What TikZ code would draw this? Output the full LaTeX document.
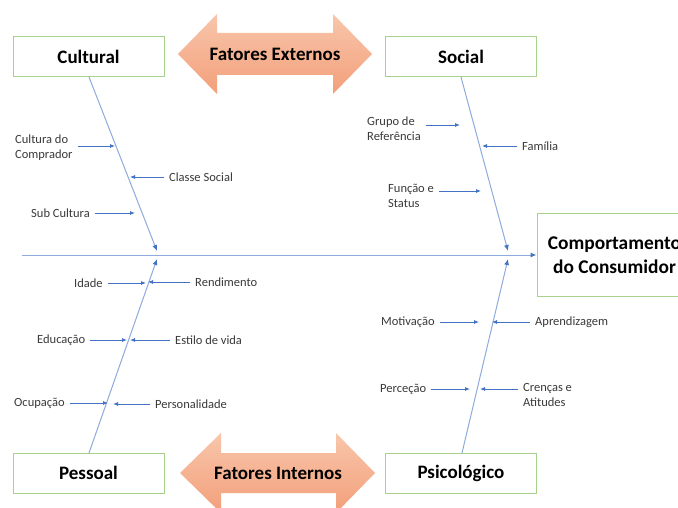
\documentclass[tikz,border=0pt]{standalone}
\usepackage{fontspec}
\setmainfont{Carlito}
\usetikzlibrary{arrows.meta,calc}
\definecolor{boxgreen}{HTML}{A9D18E}
\definecolor{bonec}{HTML}{8FAADC}
\definecolor{arrc}{HTML}{4472C4}
\definecolor{txtg}{HTML}{3A3A3A}
\definecolor{arrtop}{HTML}{F8C6AB}
\definecolor{arrbot}{HTML}{F39F7A}
\begin{document}
\begin{tikzpicture}[x=1pt,y=-1pt,
  catbox/.style={draw=boxgreen, line width=1pt, minimum width=151pt, minimum height=40pt, inner sep=0pt, fill=white, font=\fontsize{19}{22}\selectfont\bfseries},
  lblL/.style={font=\fontsize{12.5}{15}\selectfont, text=txtg, inner xsep=5pt, inner ysep=1pt, align=left, anchor=west},
  lblR/.style={font=\fontsize{12.5}{15}\selectfont, text=txtg, inner xsep=5pt, inner ysep=1pt, align=left, anchor=west},
  subarr/.style={draw=arrc, line width=0.8pt, -{Latex[length=5pt,width=4pt]}},
  bone/.style={draw=bonec, line width=1pt, -{Latex[length=6pt,width=5pt,color=arrc]}},
  bigarrow/.style={top color=arrtop, bottom color=arrbot, draw=none},
  bigtext/.style={font=\fontsize{19}{22}\selectfont\bfseries, text=black}
]
\useasboundingbox (0,0) rectangle (678,508);
\clip (0,0) rectangle (678,508);
\fill[white] (0,0) rectangle (678,508);

% big double arrows
\path[bigarrow] (178,54) -- (217,14) -- (217,33) -- (333,33) -- (333,14) -- (372,54) -- (333,94) -- (333,75) -- (217,75) -- (217,94) -- cycle;
\node[bigtext] (ext) at (275,54) {Fatores Externos};
\path[bigarrow] (180,473) -- (221,433) -- (221,453) -- (336,453) -- (336,433) -- (375,473) -- (336,513) -- (336,493) -- (221,493) -- (221,513) -- cycle;
\node[bigtext] (int) at (278,473) {Fatores Internos};

% category boxes
\node[catbox] (cult) at (88.5,57) {Cultural};
\node[catbox] (soc) at (461,57) {Social};
\node[catbox] (pess) at (88.5,473) {Pessoal};
\node[catbox] (psic) at (461,473) {Psicológico};
\node[catbox, minimum width=155pt, minimum height=82pt, align=center, font=\fontsize{19.4}{24}\selectfont\bfseries] (comp) at (614.5,255) {Comportamento\\do Consumidor};

% spine
\coordinate (spst) at (22,255);
\draw[bone] (spst) -- (comp.west);

% bones
\coordinate (cj) at (157,251);
\coordinate (pj) at (157,259);
\coordinate (sj) at (508,251);
\coordinate (qj) at (508,259);
\draw[bone] (89,77) -- (cj);
\draw[bone] (89,453) -- (pj);
\draw[bone] (461,77) -- (sj);
\draw[bone] (462,453) -- (qj);

% Cultural
\node[lblL] (c1) at (10,148) {Cultura do\\Comprador};
\coordinate (c1t) at (115,146);
\draw[subarr] (c1.east |- c1t) -- (c1t);
\node[lblR] (c2) at (164,177) {Classe Social};
\coordinate (c2t) at (130,177);
\draw[subarr] (c2.west) -- (c2t);
\node[lblL] (c3) at (26,213) {Sub Cultura};
\coordinate (c3t) at (135,213);
\draw[subarr] (c3.east) -- (c3t);

% Social
\node[lblL] (s1) at (362,129) {Grupo de\\Referência};
\coordinate (s1t) at (460,125);
\draw[subarr] (s1.east |- s1t) -- (s1t);
\node[lblR] (s2) at (517,146) {Família};
\coordinate (s2t) at (482,146);
\draw[subarr] (s2.west) -- (s2t);
\node[lblL] (s3) at (383,196) {Função e\\Status};
\coordinate (s3t) at (481,191);
\draw[subarr] (s3.east |- s3t) -- (s3t);

% Pessoal
\node[lblL] (p1) at (69,283) {Idade};
\coordinate (p1t) at (146,283);
\draw[subarr] (p1.east) -- (p1t);
\node[lblR] (p2) at (190,282) {Rendimento};
\coordinate (p2t) at (148,282);
\draw[subarr] (p2.west) -- (p2t);
\node[lblL] (p3) at (32,340) {Educação};
\coordinate (p3t) at (127,340);
\draw[subarr] (p3.east) -- (p3t);
\node[lblR] (p4) at (170,340) {Estilo de vida};
\coordinate (p4t) at (130,340);
\draw[subarr] (p4.west) -- (p4t);
\node[lblL] (p5) at (9,403) {Ocupação};
\coordinate (p5t) at (108,403);
\draw[subarr] (p5.east) -- (p5t);
\node[lblR] (p6) at (150,404) {Personalidade};
\coordinate (p6t) at (113,404);
\draw[subarr] (p6.west) -- (p6t);

% Psicologico
\node[lblL] (q1) at (376,322) {Motivação};
\coordinate (q1t) at (479,322);
\draw[subarr] (q1.east) -- (q1t);
\node[lblR] (q2) at (530,322) {Aprendizagem};
\coordinate (q2t) at (492,322);
\draw[subarr] (q2.west) -- (q2t);
\node[lblL] (q3) at (375,389) {Perceção};
\coordinate (q3t) at (470,389);
\draw[subarr] (q3.east) -- (q3t);
\node[lblR] (q4) at (518,395) {Crenças e\\Atitudes};
\coordinate (q4t) at (480,389);
\draw[subarr] (q4.west |- q4t) -- (q4t);
\end{tikzpicture}
\end{document}
